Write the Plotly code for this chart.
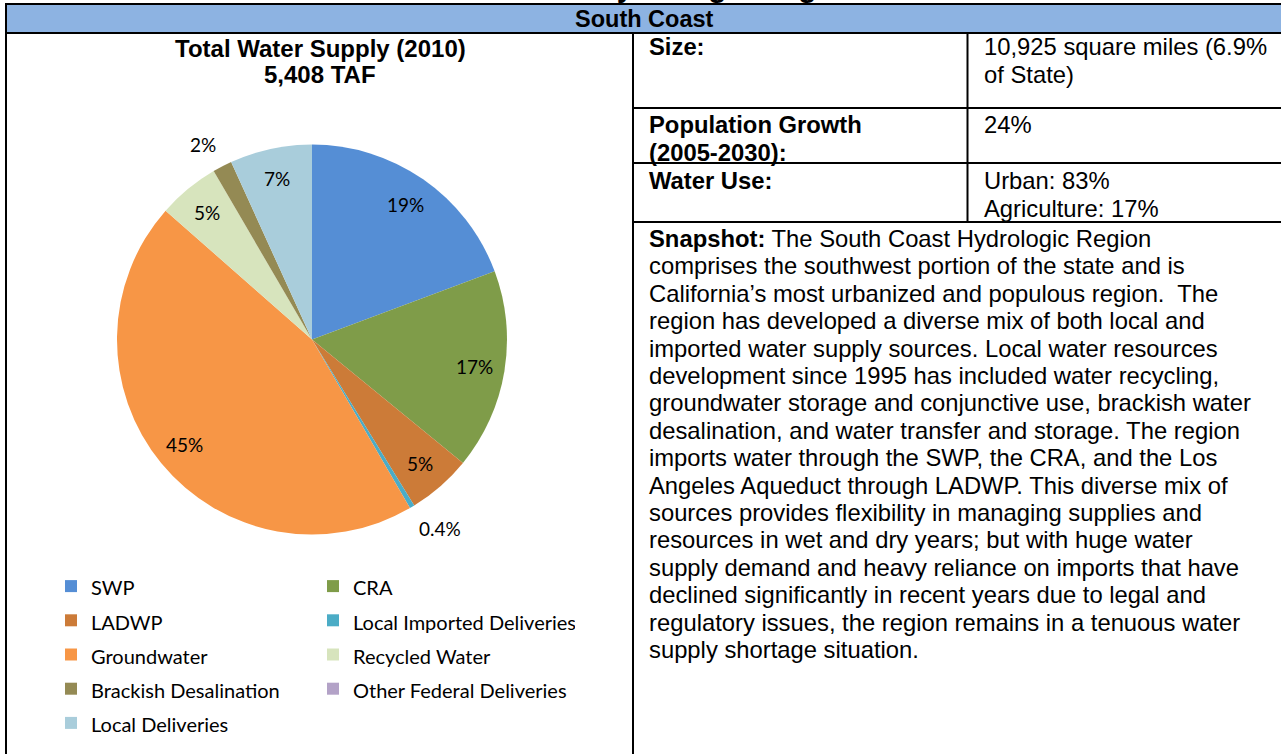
import math
import plotly.graph_objects as go

W, H = 1281, 754
PW = 640  # width of the plot area (left column); the rest is a right margin

# ---------------- data ----------------
categories = ["SWP", "CRA", "LADWP", "Local Imported Deliveries", "Groundwater",
              "Recycled Water", "Brackish Desalination", "Other Federal Deliveries",
              "Local Deliveries"]
supply_taf = [1044, 898, 287, 22, 2426, 276, 87, 0, 368]
slice_colors = ["#558ED5", "#7F9C49", "#CC7B38", "#4BACC6", "#F79646",
                "#D7E4BD", "#948A54", "#B3A2C7", "#A9CDDB"]

page_title = "South Coast Hydrologic Region"
region_name = "South Coast"
chart_title = "Total Water Supply (2010)"
chart_total = "5,408 TAF"

info_labels = [["Size:"], ["Population Growth", "(2005-2030):"], ["Water Use:"]]
info_values = [["10,925 square miles (6.9%", "of State)"], ["24%"],
               ["Urban: 83%", "Agriculture: 17%"]]

snapshot_lines = [
    "<b>Snapshot:</b> The South Coast Hydrologic Region",
    "comprises the southwest portion of the state and is",
    "California\u2019s most urbanized and populous region.  The",
    "region has developed a diverse mix of both local and",
    "imported water supply sources. Local water resources",
    "development since 1995 has included water recycling,",
    "groundwater storage and conjunctive use, brackish water",
    "desalination, and water transfer and storage. The region",
    "imports water through the SWP, the CRA, and the Los",
    "Angeles Aqueduct through LADWP. This diverse mix of",
    "sources provides flexibility in managing supplies and",
    "resources in wet and dry years; but with huge water",
    "supply demand and heavy reliance on imports that have",
    "declined significantly in recent years due to legal and",
    "regulatory issues, the region remains in a tenuous water",
    "supply shortage situation.",
]

# ---------------- helpers ----------------
def px(x):
    return x / PW


def py(y):
    return 1 - y / H


ARIAL = "Arial, Liberation Sans, sans-serif"
CAL = "Lato, Carlito, sans-serif"
TXT = 23.8

fig = go.Figure()

# pie geometry (pixels)
cx, cy, R = 312, 339.5, 195

fig.add_trace(go.Pie(
    labels=['<span style="font-size:20px">%s</span>' % c for c in categories],
    values=supply_taf,
    sort=False,
    direction="clockwise",
    rotation=0,
    marker=dict(colors=slice_colors, line=dict(width=0)),
    textinfo="none",
    hoverinfo="value+percent",
    domain=dict(x=[px(cx - R), px(cx + R)], y=[py(cy + R), py(cy - R)]),
))

shapes = []
annotations = []

# percentage labels computed from the data
total = sum(supply_taf)
cum = 0.0
for v in supply_taf:
    mid = (cum + v / 2) / total * 2 * math.pi
    cum += v
    if v == 0:
        continue
    pct = v / total * 100
    lab = ("%.1f%%" % pct) if pct < 1 else ("%.0f%%" % pct)
    s, c = math.sin(mid), math.cos(mid)
    if pct >= 3:
        r = 0.845 * R
        annotations.append(dict(x=px(cx + r * s), y=py(cy - r * c), text=lab,
                                xanchor="center", yanchor="middle", showarrow=False,
                                font=dict(family=CAL, size=19, color="#000")))
    else:
        r = 1.05 * R
        annotations.append(dict(x=px(cx + r * s), y=py(cy - r * c), text=lab,
                                xanchor="left" if s > 0 else "right",
                                yanchor="top" if c < 0 else "bottom", showarrow=False,
                                font=dict(family=CAL, size=19, color="#000")))

# ---------------- table frame ----------------
shapes.append(dict(type="rect", xref="paper", yref="paper", x0=px(6), x1=px(W + 2),
                   y0=py(33), y1=py(4), fillcolor="#8DB3E2", line=dict(width=0), layer="below"))


def hline(y, x0, x1):
    shapes.append(dict(type="line", xref="paper", yref="paper", x0=px(x0), x1=px(x1),
                       y0=py(y), y1=py(y), line=dict(color="#000", width=2)))


def vline(x, y0, y1):
    shapes.append(dict(type="line", xref="paper", yref="paper", x0=px(x), x1=px(x),
                       y0=py(y0), y1=py(y1), line=dict(color="#000", width=2)))


hline(4, 5, W + 2)
hline(33, 5, W + 2)
vline(6, 3, H + 2)
vline(633, 33, H + 2)
hline(108, 633, W + 2)
hline(163, 633, W + 2)
hline(222, 633, W + 2)
vline(967.5, 33, 222)

# ---------------- texts ----------------
# page title (mostly cut off above the page)
annotations.append(dict(x=px(636), y=py(-14), text="<b>%s</b>" % page_title, showarrow=False,
                        xanchor="center", yanchor="middle",
                        font=dict(family=ARIAL, size=30, color="#000")))
annotations.append(dict(x=px(644), y=py(18.5), text="<b>%s</b>" % region_name, showarrow=False,
                        xanchor="center", yanchor="middle",
                        font=dict(family=ARIAL, size=23.5, color="#000")))
annotations.append(dict(x=px(320), y=py(48), text="<b>%s</b>" % chart_title, showarrow=False,
                        xanchor="center", yanchor="middle",
                        font=dict(family=ARIAL, size=24, color="#000")))
annotations.append(dict(x=px(320), y=py(75), text="<b>%s</b>" % chart_total, showarrow=False,
                        xanchor="center", yanchor="middle",
                        font=dict(family=ARIAL, size=24, color="#000")))

LS = 27.4
row_tops = [47, 125, 181]
for top, labs, vals in zip(row_tops, info_labels, info_values):
    for i, t in enumerate(labs):
        annotations.append(dict(x=px(647), y=py(top + i * LS), text="<b>%s</b>" % t,
                                showarrow=False, xanchor="left", yanchor="middle",
                                font=dict(family=ARIAL, size=TXT, color="#000")))
    for i, t in enumerate(vals):
        annotations.append(dict(x=px(982), y=py(top + i * LS), text=t,
                                showarrow=False, xanchor="left", yanchor="middle",
                                font=dict(family=ARIAL, size=TXT, color="#000")))

for i, t in enumerate(snapshot_lines):
    annotations.append(dict(x=px(647), y=py(238.5 + i * LS), text=t,
                            showarrow=False, xanchor="left", yanchor="middle",
                            font=dict(family=ARIAL, size=TXT, color="#000")))

fig.update_layout(
    width=W, height=H,
    margin=dict(l=0, r=W - PW, t=0, b=0, autoexpand=False),
    paper_bgcolor="#FFFFFF", plot_bgcolor="#FFFFFF",
    showlegend=True,
    legend=dict(orientation="h", x=px(313), xanchor="center", y=py(564), yanchor="top",
                entrywidth=217, entrywidthmode="pixels",
                font=dict(family=CAL, size=24, color="#000"),
                bgcolor="rgba(0,0,0,0)", borderwidth=0, traceorder="normal"),
    shapes=shapes,
    annotations=annotations,
)

fig.write_html("out.html", config={"displayModeBar": False},
               post_script="document.body.style.margin='0';document.body.style.overflow='hidden';")
